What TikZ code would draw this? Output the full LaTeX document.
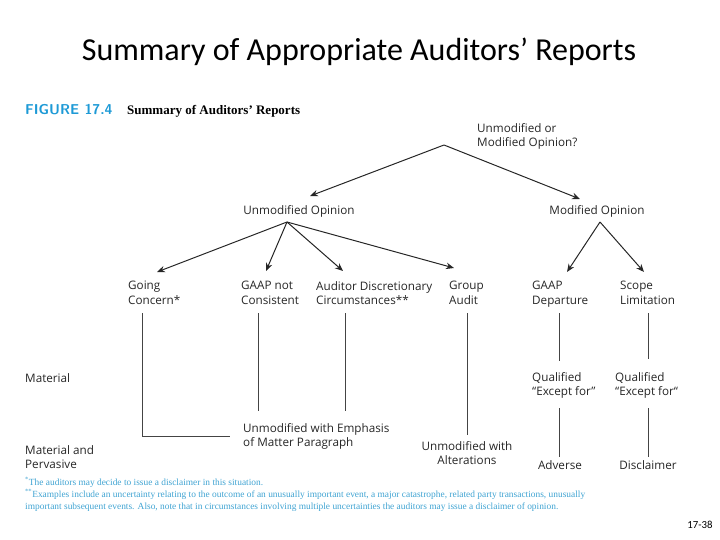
\documentclass[tikz,border=0pt]{standalone}
\usepackage{fontspec}
\setmainfont{Open Sans}
\newfontfamily\titlefont{Carlito}
\newfontfamily\seriffont{Liberation Serif}
\usetikzlibrary{arrows.meta}
\definecolor{figcyan}{HTML}{1E9AD6}
\definecolor{notecyan}{HTML}{3FA3D2}
\definecolor{linegray}{HTML}{444444}
\tikzset{
  lbl/.style={inner sep=0pt, align=left, font=\fontsize{11.7}{14.5}\selectfont, text=black!85},
  lblc/.style={lbl, align=center},
  arr/.style={-{Stealth[length=8pt,width=6.5pt]}, line width=1pt, black!85},
  vline/.style={line width=0.9pt, linegray},
  note/.style={inner sep=0pt, anchor=base west, text=notecyan, font=\seriffont\fontsize{9.4}{11}\selectfont}
}
\begin{document}
\begin{tikzpicture}[x=1pt,y=-1pt]
\useasboundingbox (0,0) rectangle (720,540);
% title
\node[font=\titlefont\fontsize{32}{36}\selectfont] (title) at (359,52) {Summary of Appropriate Auditors’ Reports};
\node[inner sep=0pt, anchor=base west, font=\sffamily\bfseries\fontsize{14.3}{16}\selectfont, text=figcyan] (fig) at (25,115) {FIGURE 17.4};
\node[inner sep=0pt, anchor=base west, font=\seriffont\bfseries\fontsize{13}{15}\selectfont] (figt) at (127,115) {Summary of Auditors’ Reports};
% top
\node[lbl, anchor=north west] (root) at (477,123) {Unmodified or\\Modified Opinion?};
\coordinate (rootapex) at (444,145);
\node[lbl] (unmod) at (299,211) {Unmodified Opinion};
\node[lbl] (mod) at (597,211) {Modified Opinion};
\coordinate (unmodtip) at (310,196);
\coordinate (modtip) at (580,199);
\draw[arr] (rootapex) -- (unmodtip);
\draw[arr] (rootapex) -- (modtip);
% second level
\coordinate (uapex) at (287,222);
\coordinate (mapex) at (600,222);
\node[lbl, anchor=north west] (gc) at (128,281) {Going\\Concern*};
\node[lbl, anchor=north west] (gnc) at (241,281) {GAAP not\\Consistent};
\node[lbl, anchor=north west] (adc) at (316,281) {Auditor Discretionary\\Circumstances**};
\node[lbl, anchor=north west] (ga) at (449,281) {Group\\Audit};
\node[lbl, anchor=north west] (gd) at (532,281) {GAAP\\Departure};
\node[lbl, anchor=north west] (sl) at (620,281) {Scope\\Limitation};
\coordinate (gctip) at (157,272);
\coordinate (gnctip) at (266,271);
\coordinate (adctip) at (343,271);
\coordinate (gatip) at (454,268);
\coordinate (gdtip) at (567,272);
\coordinate (sltip) at (644,272);
\draw[arr] (uapex) -- (gctip);
\draw[arr] (uapex) -- (gnctip);
\draw[arr] (uapex) -- (adctip);
\draw[arr] (uapex) -- (gatip);
\draw[arr] (mapex) -- (gdtip);
\draw[arr] (mapex) -- (sltip);
% rows
\node[lbl, anchor=west] (mat) at (25,378) {Material};
\node[lbl, anchor=north west] (matp) at (25,445) {Material and\\Pervasive};
\node[lbl, anchor=north west] (q1) at (532,372) {Qualified\\“Except for”};
\node[lbl, anchor=north west] (q2) at (615,372) {Qualified\\“Except for“};
\node[lbl, anchor=north west] (emph) at (243,423) {Unmodified with Emphasis\\of Matter Paragraph};
\node[lblc, anchor=north] (alt) at (467,441) {Unmodified with\\Alterations};
\node[lbl] (adv) at (560,465) {Adverse};
\node[lbl] (dis) at (648,465) {Disclaimer};
% vertical lines
\coordinate (gcA) at (142,313);
\coordinate (gcB) at (142,436);
\coordinate (gcC) at (230,436);
\draw[vline] (gcA) -- (gcB) -- (gcC);
\coordinate (gncA) at (258,313);
\coordinate (gncB) at (258,411);
\draw[vline] (gncA) -- (gncB);
\coordinate (adcA) at (345,313);
\coordinate (adcB) at (345,411);
\draw[vline] (adcA) -- (adcB);
\coordinate (gaA) at (467,313);
\coordinate (gaB) at (467,435);
\draw[vline] (gaA) -- (gaB);
\coordinate (gdA) at (559,313);
\coordinate (gdB) at (559,361);
\draw[vline] (gdA) -- (gdB);
\coordinate (slA) at (648,313);
\coordinate (slB) at (648,359);
\draw[vline] (slA) -- (slB);
\coordinate (q1A) at (559,408);
\coordinate (q1B) at (559,457);
\draw[vline] (q1A) -- (q1B);
\coordinate (q2A) at (648,408);
\coordinate (q2B) at (648,457);
\draw[vline] (q2A) -- (q2B);
% footnotes
\node[note] (n1) at (25,485) {\textsuperscript{*}The auditors may decide to issue a disclaimer in this situation.};
\node[note] (n2) at (25,497) {\textsuperscript{**}Examples include an uncertainty relating to the outcome of an unusually important event, a major catastrophe, related party transactions, unusually};
\node[note] (n3) at (25,509) {important subsequent events. Also, note that in circumstances involving multiple uncertainties the auditors may issue a disclaimer of opinion.};
\node[inner sep=0pt, font=\titlefont\fontsize{10.8}{12}\selectfont] (pg) at (700,525) {17-38};
\end{tikzpicture}
\end{document}
